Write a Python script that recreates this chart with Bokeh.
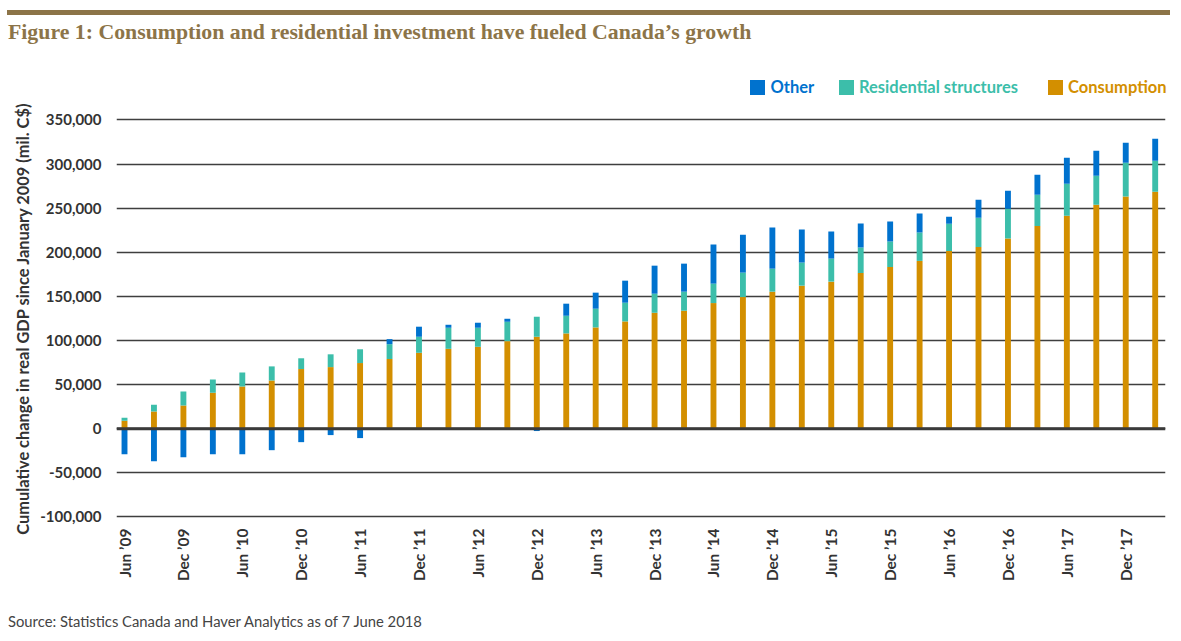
import math
import numpy as np
from bokeh.plotting import figure
from bokeh.layouts import column
from bokeh.models import Range1d, FixedTicker, NumeralTickFormatter, Span, ColumnDataSource, Div
from bokeh.embed import file_html
from bokeh.resources import INLINE

# ---------------- data (mil. C$, cumulative change since Jan 2009) ----------------
quarters = ["Jun ’09", "Sep ’09", "Dec ’09", "Mar ’10", "Jun ’10", "Sep ’10", "Dec ’10", "Mar ’11",
            "Jun ’11", "Sep ’11", "Dec ’11", "Mar ’12", "Jun ’12", "Sep ’12", "Dec ’12", "Mar ’13",
            "Jun ’13", "Sep ’13", "Dec ’13", "Mar ’14", "Jun ’14", "Sep ’14", "Dec ’14", "Mar ’15",
            "Jun ’15", "Sep ’15", "Dec ’15", "Mar ’16", "Jun ’16", "Sep ’16", "Dec ’16", "Mar ’17",
            "Jun ’17", "Sep ’17", "Dec ’17", "Mar ’18"]

consumption = [9000, 19500, 26300, 40800, 47700, 54600, 67600, 69800, 74400, 79000, 86000, 90500,
               92800, 99200, 104200, 108000, 114800, 121600, 131400, 133700, 142400, 149200, 155300, 162100,
               166700, 176500, 183300, 190200, 201500, 206000, 215500, 229900, 241300, 253800, 263300, 268600]

residential = [3400, 7600, 15700, 14900, 16000, 16000, 12200, 14500, 15600, 16800, 18200, 23900,
               21600, 22000, 22700, 20000, 21200, 21200, 21600, 21600, 22000, 27700, 26100, 26200,
               26100, 28800, 28800, 32100, 30700, 33000, 33700, 35300, 36400, 32900, 38200, 35200]

other = [-29000, -37000, -32400, -29000, -29000, -24400, -15300, -7300, -10700, 5700, 11400, 3400,
         5700, 3400, -2700, 13700, 18200, 25000, 31800, 31800, 44300, 43100, 46600, 37500,
         30700, 27300, 22700, 21600, 8000, 20500, 20500, 22700, 29500, 28500, 22700, 25000]

tick_labels = ["Jun ’09", "Dec ’09", "Jun ’10", "Dec ’10", "Jun ’11", "Dec ’11", "Jun ’12", "Dec ’12",
               "Jun ’13", "Dec ’13", "Jun ’14", "Dec ’14", "Jun ’15", "Dec ’15", "Jun ’16", "Dec ’16",
               "Jun ’17", "Dec ’17"]

y_ticks = [-100000, -50000, 0, 50000, 100000, 150000, 200000, 250000, 300000, 350000]

series_names = ["Other", "Residential structures", "Consumption"]
series_colors = ["#0072CE", "#3CBEAA", "#D38F00"]

title_text = "Figure 1: Consumption and residential investment have fueled Canada’s growth"
source_text = "Source: Statistics Canada and Haver Analytics as of 7 June 2018"
y_label = "Cumulative change in real GDP since January 2009 (mil. C$)"

# ---------------- styles / layout ----------------
BROWN = "#8C7448"
TXT = "#333333"
FONT = "Lato"
W = 1170
HEAD_H, MAIN_H, FOOT_H = 100, 500, 33
ML, MR, MT, MB = 116, 5, 17, 81

# ---------------- header (rule, title, legend) ----------------
leg_sq_left = [750, 839, 1048]
leg_tx_left = [770.5, 859, 1068]
legend_html = ""
for name, col, sl, tl in zip(series_names, series_colors, leg_sq_left, leg_tx_left):
    legend_html += (
        f'<div style="position:absolute;left:{sl}px;top:80px;width:15px;height:15px;background:{col}"></div>'
        f'<div style="position:absolute;left:{tl}px;top:78.7px;white-space:nowrap;font-family:Lato;'
        f'font-weight:bold;font-size:16.5px;line-height:1;color:{col}">{name}</div>'
    )
header_html = (
    f'<div style="position:relative;width:{W}px;height:{HEAD_H}px;margin:0;padding:0">'
    f'<div style="position:absolute;left:7px;top:9.6px;width:{W - 7}px;height:5px;background:{BROWN}"></div>'
    f'<div style="position:absolute;left:8px;top:22.3px;white-space:nowrap;font-family:\'Liberation Serif\';'
    f'font-weight:bold;font-size:21.8px;line-height:1;color:{BROWN}">{title_text}</div>'
    f'{legend_html}</div>'
)
header = Div(text=header_html, width=W, height=HEAD_H, margin=(0, 0, 0, 0))

# ---------------- main chart ----------------
n = len(quarters)
idx = np.arange(n)
c = np.array(consumption, dtype=float)
r = np.array(residential, dtype=float)
o = np.array(other, dtype=float)
pos_top = c + r
o_bottom = np.where(o >= 0, pos_top, 0.0)
o_top = np.where(o >= 0, pos_top + o, o)

src = ColumnDataSource(dict(x=idx, quarter=quarters, c_bottom=np.zeros(n), c_top=c,
                            r_bottom=c, r_top=pos_top, o_bottom=o_bottom, o_top=o_top))

p = figure(width=W, height=MAIN_H, x_range=Range1d(-0.272, 35.35), y_range=Range1d(-103000, 352800),
           output_backend="svg", toolbar_location=None,
           min_border_left=ML, min_border_right=MR, min_border_top=MT, min_border_bottom=MB,
           outline_line_color=None, margin=(0, 0, 0, 0))

BW = 0.2
p.vbar(x="x", width=BW, bottom="c_bottom", top="c_top", source=src, color=series_colors[2], line_color=None)
p.vbar(x="x", width=BW, bottom="r_bottom", top="r_top", source=src, color=series_colors[1], line_color=None)
p.vbar(x="x", width=BW, bottom="o_bottom", top="o_top", source=src, color=series_colors[0], line_color=None)

p.add_layout(Span(location=0, dimension="width", line_color="#3a3a3a", line_width=3))

p.xgrid.visible = False
p.ygrid.grid_line_color = "#3f3f3f"
p.ygrid.grid_line_width = 1.6

yax = p.yaxis[0]
yax.ticker = FixedTicker(ticks=y_ticks)
yax.formatter = NumeralTickFormatter(format="0,0")
yax.axis_line_color = None
yax.major_tick_line_color = None
yax.minor_tick_line_color = None
yax.major_label_standoff = 9
yax.major_label_text_font = FONT
yax.major_label_text_font_style = "bold"
yax.major_label_text_font_size = "15px"
yax.major_label_text_color = TXT
yax.axis_label = y_label
yax.axis_label_text_font = FONT
yax.axis_label_text_font_style = "bold"
yax.axis_label_text_font_size = "16.4px"
yax.axis_label_text_color = TXT
yax.axis_label_standoff = 5

tick_pos = [quarters.index(t) for t in tick_labels]
xax = p.xaxis[0]
xax.ticker = FixedTicker(ticks=tick_pos)
xax.major_label_overrides = {int(k): t for k, t in zip(tick_pos, tick_labels)}
xax.major_label_orientation = math.pi / 2
xax.axis_line_color = None
xax.major_tick_line_color = None
xax.minor_tick_line_color = None
xax.major_label_standoff = 3
xax.major_label_text_font = FONT
xax.major_label_text_font_style = "bold"
xax.major_label_text_font_size = "15.5px"
xax.major_label_text_color = TXT

# ---------------- footer (source) ----------------
footer_html = (
    f'<div style="position:relative;width:{W}px;height:{FOOT_H}px;margin:0;padding:0">'
    f'<div style="position:absolute;left:8px;top:14.2px;white-space:nowrap;font-family:Lato;'
    f'font-size:14.8px;line-height:1;color:#444444">{source_text}</div></div>'
)
footer = Div(text=footer_html, width=W, height=FOOT_H, margin=(0, 0, 0, 0))

layout = column(header, p, footer, spacing=0)
open("out.html", "w").write(file_html(layout, INLINE))
